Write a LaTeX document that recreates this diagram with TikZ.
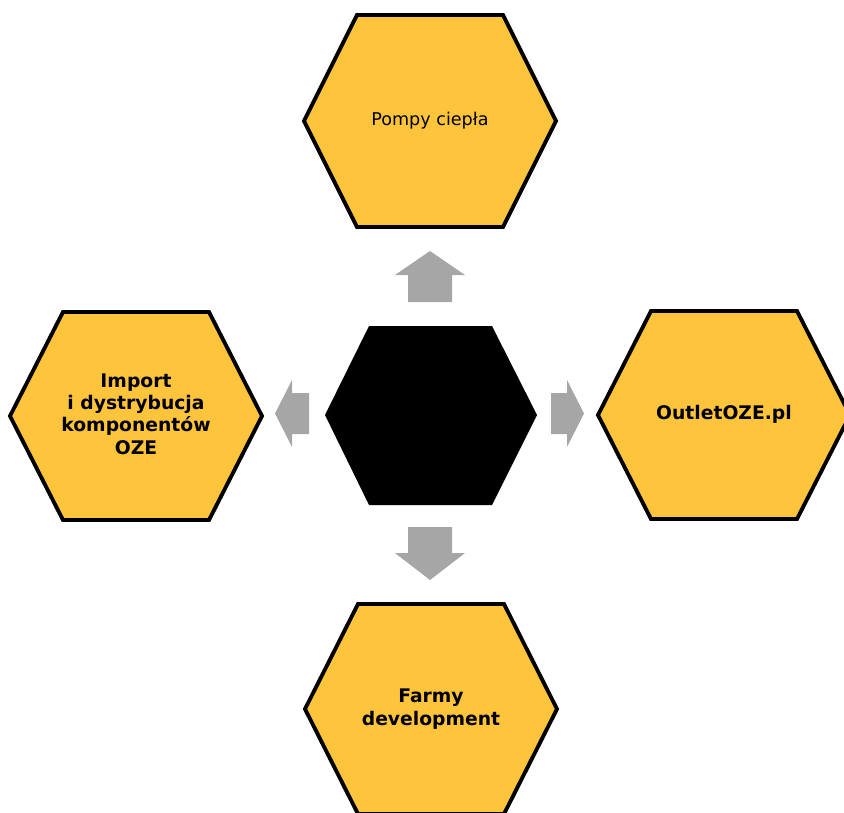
\documentclass[tikz,border=0pt]{standalone}
\usepackage{fontspec}
\setmainfont{DejaVu Sans}
\usepackage{tikz}

\definecolor{hexyellow}{RGB}{253,196,60}
\definecolor{arrowgray}{RGB}{166,166,166}

\begin{document}
\begin{tikzpicture}
    [x = 0.03cm, y = -0.03cm,
     hexa/.style = {fill = hexyellow, draw = black, line width = 3.3pt},
     hexlabel/.style = {align = center, text = black,
                        font = \fontsize{16}{19}\selectfont\bfseries},
     blockarrow/.style = {fill = arrowgray}]
    \useasboundingbox (0,0) rectangle (844,812);

    % hexagons: centre x / centre y / half height
    \foreach \cx/\cy/\hh in {430/121/106, 136/416/104, 724/415/104, 431/709/105}
      \draw[hexa] ({\cx-126},\cy) -- ({\cx-73},{\cy-\hh}) -- ({\cx+73},{\cy-\hh})
        -- ({\cx+126},\cy) -- ({\cx+73},{\cy+\hh}) -- ({\cx-73},{\cy+\hh}) -- cycle;
    \fill[black] (325,415) -- (369,326) -- (492,326) -- (537,415)
      -- (492,505) -- (369,505) -- cycle;

    \node (centre) at (431,415) {};
    \node[hexlabel, font = \fontsize{15}{18}\selectfont] (pompy) at (430,121) {Pompy ciepła};
    \node[hexlabel] (import) at (136,414) {Import\\i dystrybucja\\komponentów\\OZE};
    \node[hexlabel] (outlet) at (724,414) {OutletOZE.pl};
    \node[hexlabel] (farmy) at (431,709) {Farmy\\development};

    % arrows out of the centre
    \fill[blockarrow] (408,302) -- (408,275) -- (395,275) -- (430,251)
      -- (465,275) -- (452,275) -- (452,302) -- cycle;
    \fill[blockarrow] (408,527) -- (408,553) -- (395,553) -- (430,580)
      -- (465,553) -- (452,553) -- (452,527) -- cycle;
    \fill[blockarrow] (309,393) -- (292,393) -- (292,380) -- (275,413.5)
      -- (292,447) -- (292,434) -- (309,434) -- cycle;
    \fill[blockarrow] (551,393) -- (567,393) -- (567,380) -- (584,413.5)
      -- (567,447) -- (567,434) -- (551,434) -- cycle;
  \end{tikzpicture}
\end{document}
